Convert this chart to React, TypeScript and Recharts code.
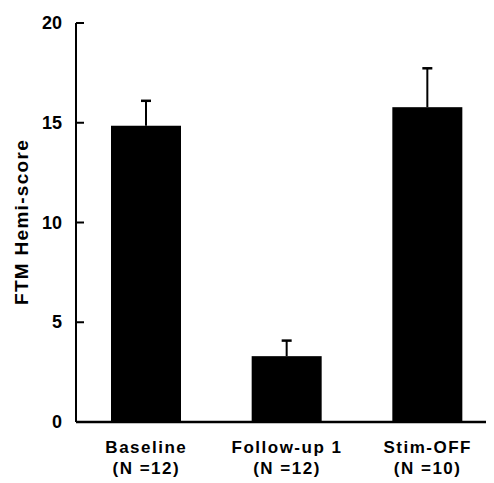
import React from 'react';
import { BarChart, Bar, XAxis, YAxis } from 'recharts';

const categories = ['Baseline', 'Follow-up 1', 'Stim-OFF'];
const nLabels = ['(N =12)', '(N =12)', '(N =10)'];
const means = [14.85, 3.3, 15.78];
const errors = [1.25, 0.78, 1.95];
const yTicks = [0, 5, 10, 15, 20];
const yLabel = 'FTM Hemi-score';

const data = categories.map((c, i) => ({
  name: c,
  n: nLabels[i],
  value: means[i],
  err: errors[i],
}));

const FONT = '"Liberation Sans", Arial, sans-serif';

const YTick = (props: any) => {
  const { x, y, payload } = props;
  return (
    <g>
      <line x1={x + 14} x2={x + 22} y1={y} y2={y} stroke="#000" strokeWidth={2} />
      <text x={x} y={y} textAnchor="end" dominantBaseline="central" fontFamily={FONT} fontWeight="bold" fontSize={18} fill="#000">
        {payload.value}
      </text>
    </g>
  );
};

const XTick = (props: any) => {
  const { x, y, payload, index } = props;
  return (
    <g>
      <text x={x} y={y + 31} textAnchor="middle" fontFamily={FONT} fontWeight="bold" fontSize={17} letterSpacing={1.5} fill="#000">
        {payload.value}
      </text>
      <text x={x} y={y + 52} textAnchor="middle" fontFamily={FONT} fontWeight="bold" fontSize={17} letterSpacing={1.5} fill="#000">
        {nLabels[index]}
      </text>
    </g>
  );
};

// Bar with an upward-only error whisker, scaled from the bar's own geometry
const BarWithError = (props: any) => {
  const { x, y, width, height, payload } = props;
  const pxPerUnit = payload.value ? height / payload.value : 0;
  const top = y - payload.err * pxPerUnit;
  const cx = x + width / 2;
  return (
    <g>
      <rect x={x} y={y} width={width} height={height} fill="#000" />
      <line x1={cx} x2={cx} y1={y} y2={top} stroke="#000" strokeWidth={2} />
      <line x1={cx - 5} x2={cx + 5} y1={top} y2={top} stroke="#000" strokeWidth={2.5} />
    </g>
  );
};

export default function App() {
  return (
    <div style={{ width: 486, height: 475 }}>
      <BarChart width={486} height={475} data={data} margin={{ top: 15, right: 0, bottom: 0, left: 0 }} barSize={70}>
        <XAxis
          dataKey="name"
          axisLine={{ stroke: '#000', strokeWidth: 2.5 }}
          tickLine={false}
          tickSize={0}
          tickMargin={0}
          height={61}
          padding={{ left: 0, right: -4 }}
          tick={<XTick />}
          interval={0}
        />
        <YAxis
          domain={[0, 20]}
          ticks={yTicks}
          width={68}
          axisLine={{ stroke: '#000', strokeWidth: 2 }}
          tickLine={false}
          tickSize={0}
          tickMargin={14}
          tick={<YTick />}
          interval={0}
        />
        <text x={20} y={214} transform="rotate(-90 20 214)" textAnchor="middle" fontFamily={FONT} fontWeight="bold" fontSize={19} letterSpacing={1.3} fill="#000">
          {yLabel}
        </text>
        <Bar dataKey="value" fill="#000" isAnimationActive={false} shape={<BarWithError />} />
      </BarChart>
    </div>
  );
}
